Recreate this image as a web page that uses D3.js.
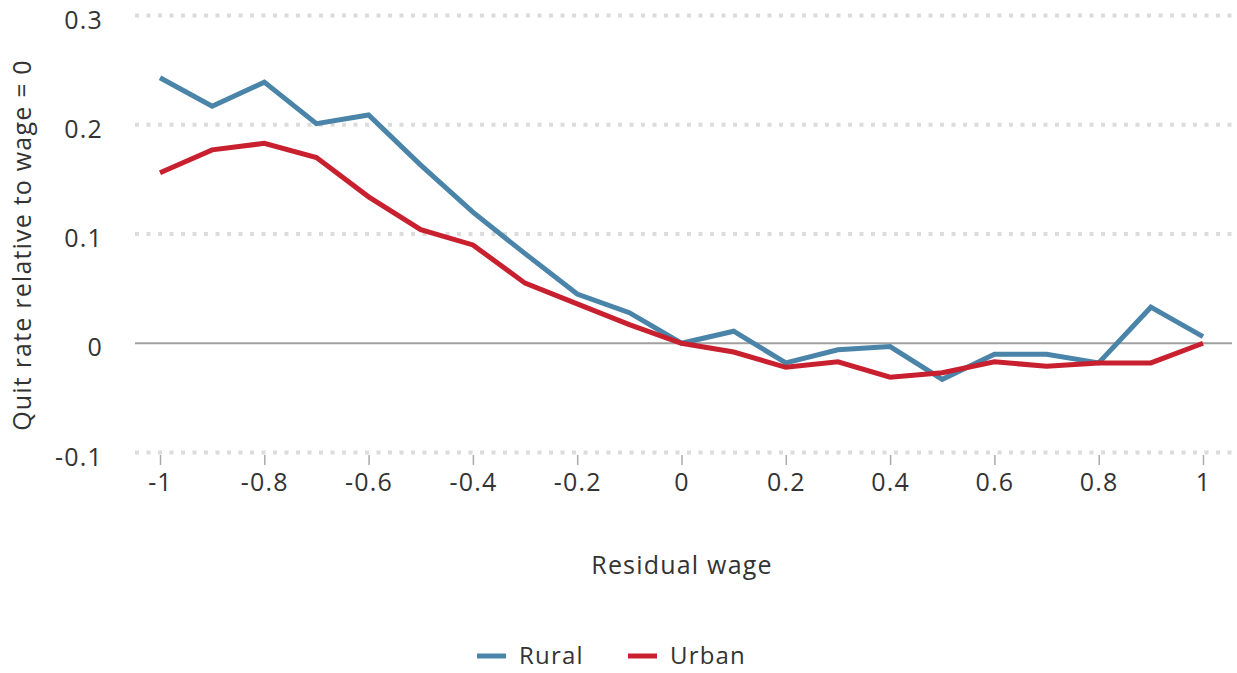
<!DOCTYPE html>
<html><head><meta charset="utf-8">
<script src="https://cdn.jsdelivr.net/npm/d3@7"></script>
<style>body{margin:0;background:#fff;} svg{display:block;} text{font-family:"Open Sans",sans-serif;fill:#333;letter-spacing:1.2px;}</style>
</head><body>
<svg id="c" width="1237" height="673"></svg>
<script>
const xValues = [-1,-0.9,-0.8,-0.7,-0.6,-0.5,-0.4,-0.3,-0.2,-0.1,0,0.1,0.2,0.3,0.4,0.5,0.6,0.7,0.8,0.9,1];
const rural = [0.243,0.217,0.239,0.201,0.209,0.163,0.120,0.082,0.045,0.028,0.0,0.011,-0.018,-0.006,-0.003,-0.033,-0.010,-0.010,-0.018,0.033,0.006];
const urban = [0.156,0.177,0.183,0.170,0.134,0.104,0.090,0.055,0.036,0.017,0.0,-0.008,-0.022,-0.017,-0.031,-0.027,-0.017,-0.021,-0.018,-0.018,0.0];
const xTicks = [-1,-0.8,-0.6,-0.4,-0.2,0,0.2,0.4,0.6,0.8,1];
const yTicks = [-0.1,0,0.1,0.2,0.3];
const seriesNames = ["Rural","Urban"];
const colors = ["#4a84a8","#c8202f"];

const svg = d3.select("#c");
const x = d3.scaleLinear().domain([-1,1]).range([160,1203]);
const y = d3.scaleLinear().domain([-0.1,0.3]).range([452.5,15.5]);
const fmt = d => d===0 ? "0" : String(d);
const FS = 25;

// gridlines
svg.append("g").selectAll("line").data(yTicks.filter(d=>d!==0)).join("line")
  .attr("x1",135).attr("x2",1232).attr("y1",d=>y(d)).attr("y2",d=>y(d))
  .attr("stroke","#dcdcdc").attr("stroke-width",4).attr("stroke-dasharray","4 7.5");
svg.append("line").attr("x1",135).attr("x2",1232).attr("y1",y(0)).attr("y2",y(0))
  .attr("stroke","#a0a0a0").attr("stroke-width",2);

// y tick labels
svg.append("g").selectAll("text").data(yTicks).join("text")
  .attr("x",103).attr("y",d=>y(d)+13).attr("text-anchor","end")
  .attr("font-size",FS).text(fmt);

// x axis
const xa = svg.append("g").attr("transform","translate(0,455)")
  .call(d3.axisBottom(x).tickValues(xTicks).tickSize(10).tickPadding(8).tickFormat(fmt));
xa.select(".domain").remove();
xa.selectAll(".tick line").attr("stroke","#aaa").attr("stroke-width",1.5);
xa.selectAll(".tick text").attr("font-size",FS).attr("font-family","'Open Sans', sans-serif").attr("fill","#333");

// axis titles
svg.append("text").attr("transform","translate(31,245) rotate(-90)").attr("text-anchor","middle")
  .attr("font-size",FS).text("Quit rate relative to wage = 0");
svg.append("text").attr("x",682).attr("y",574).attr("text-anchor","middle")
  .attr("font-size",FS).text("Residual wage");

// lines
const line = d3.line().x((d,i)=>x(xValues[i])).y(d=>y(d));
[rural,urban].forEach((s,i)=>{
  svg.append("path").datum(s).attr("d",line).attr("fill","none")
    .attr("stroke",colors[i]).attr("stroke-width",5).attr("stroke-linejoin","miter");
});

// legend
const lg = svg.append("g");
const lx = [477,628];
seriesNames.forEach((n,i)=>{
  lg.append("line").attr("x1",lx[i]).attr("x2",lx[i]+29).attr("y1",656).attr("y2",656)
    .attr("stroke",colors[i]).attr("stroke-width",5);
  lg.append("text").attr("x",lx[i]+42).attr("y",656).attr("dy","0.35em").attr("font-size",FS-1).text(n);
});
</script>
</body></html>
